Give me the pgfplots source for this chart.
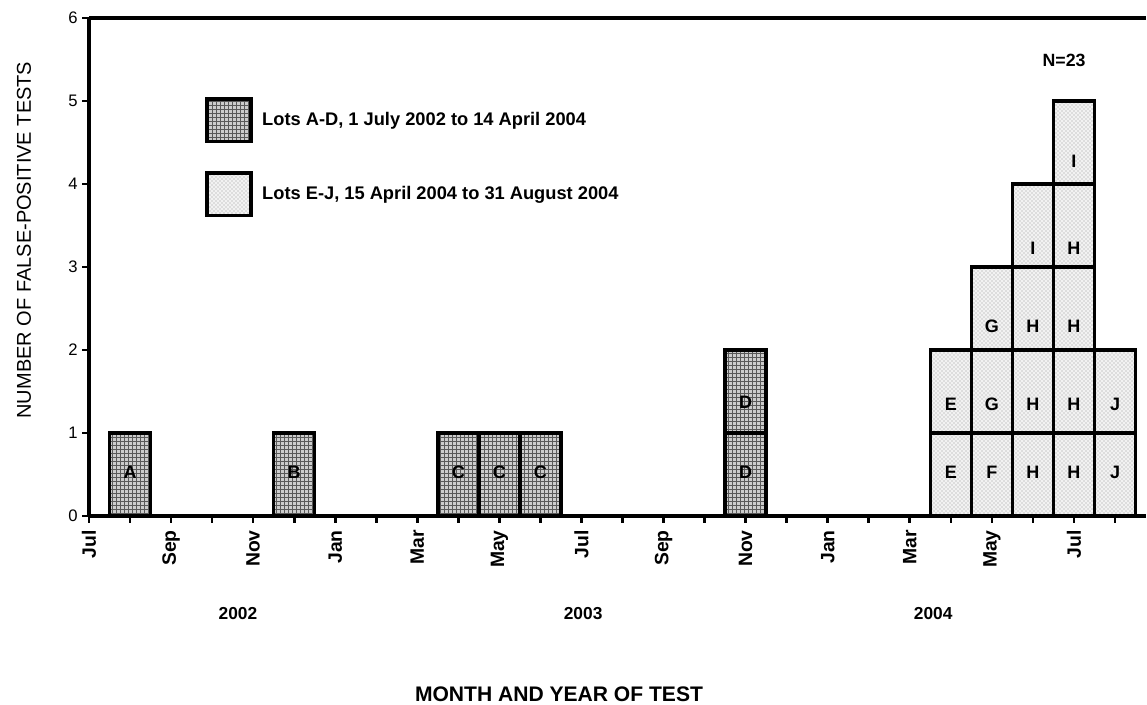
\documentclass[border=0pt]{standalone}
\usepackage{pgfplots}
\pgfplotsset{compat=1.18}
\usetikzlibrary{patterns}
\usepackage{fontspec}
\setmainfont{Liberation Sans}

\definecolor{darkfill}{gray}{0.80}
\definecolor{lightfill}{gray}{0.95}

\tikzset{
  lotsAD/.style={preaction={fill=darkfill}, pattern=grid, pattern color=black!65, draw=black, line width=2.6pt},
  lotsEJ/.style={preaction={fill=lightfill}, pattern=crosshatch dots, pattern color=black!40, draw=black, line width=2.6pt},
}

\begin{document}
\begin{tikzpicture}
\path[use as bounding box] (-66.75pt,-141.75pt) rectangle (793.5pt,387pt);
\begin{axis}[
  x=30.78pt, y=62.25pt,
  xmin=0, xmax=25.75, ymin=0, ymax=6,
  axis x line*=bottom, axis y line*=left,
  axis line style={line width=3pt, -},
  clip=false,
  tick align=outside,
  major tick length=5pt,
  tick style={line width=2pt, black},
  xtick={0,...,25},
  xticklabels={Jul,,Sep,,Nov,,Jan,,Mar,,May,,Jul,,Sep,,Nov,,Jan,,Mar,,May,,Jul,},
  xticklabel shift=2.25pt,
  xticklabel style={rotate=90, anchor=east, font=\bfseries\fontsize{14.5}{15}\selectfont},
  ytick={0,...,6},
  yticklabel style={font=\fontsize{12.5}{13}\selectfont},
  /pgf/number format/assume math mode=true,
  xlabel={MONTH AND YEAR OF TEST},
  ylabel={NUMBER OF FALSE-POSITIVE TESTS},
  every axis x label/.style={at={(rel axis cs:0,0)}, xshift=352.5pt, yshift=-133.5pt, anchor=center, font=\bfseries\fontsize{15.8}{16}\selectfont},
  every axis y label/.style={at={(rel axis cs:0,0.554)}, xshift=-48.75pt, rotate=90, anchor=center, font=\fontsize{15}{16}\selectfont},
  legend style={at={(axis cs:2.83,5.05)}, anchor=north west, draw=none, fill=none,
    font=\bfseries\fontsize{13.7}{14}\selectfont, row sep=21pt, inner sep=0pt,
    /tikz/every odd column/.append style={column sep=5pt}},
  legend cell align=left,
  legend image code/.code={\draw[#1] (0pt,-16pt) rectangle (33pt,16pt);},
]
% legend
\addlegendimage{lotsAD}
\addlegendentry{Lots A-D, 1 July 2002 to 14 April 2004}
\addlegendimage{lotsEJ}
\addlegendentry{Lots E-J, 15 April 2004 to 31 August 2004}

% Lots A-D, drawn tallest level first
\addplot[ybar, bar width=1, bar shift=0pt, lotsAD, forget plot]
  coordinates {(16,2)};
\addplot[ybar, bar width=1, bar shift=0pt, lotsAD, forget plot]
  coordinates {(1,1) (5,1) (9,1) (10,1) (11,1) (16,1)};
% Lots E-J
\addplot[ybar, bar width=1, bar shift=0pt, lotsEJ, forget plot]
  coordinates {(24,5)};
\addplot[ybar, bar width=1, bar shift=0pt, lotsEJ, forget plot]
  coordinates {(23,4) (24,4)};
\addplot[ybar, bar width=1, bar shift=0pt, lotsEJ, forget plot]
  coordinates {(22,3) (23,3) (24,3)};
\addplot[ybar, bar width=1, bar shift=0pt, lotsEJ, forget plot]
  coordinates {(21,2) (22,2) (23,2) (24,2) (25,2)};
\addplot[ybar, bar width=1, bar shift=0pt, lotsEJ, forget plot]
  coordinates {(21,1) (22,1) (23,1) (24,1) (25,1)};

% lot letters
\addplot[draw=none, mark=none, forget plot, nodes near coords, point meta=explicit symbolic,
  nodes near coords align={center},
  every node near coord/.append style={font=\bfseries\fontsize{13.5}{14}\selectfont, anchor=center, inner sep=0pt}]
  coordinates {(1,0.53)[A] (5,0.53)[B] (9,0.53)[C] (10,0.53)[C] (11,0.53)[C]
   (16,0.53)[D] (16,1.37)[D]
   (21,0.53)[E] (21,1.35)[E]
   (22,0.53)[F] (22,1.35)[G] (22,2.28)[G]
   (23,0.53)[H] (23,1.35)[H] (23,2.28)[H] (23,3.23)[I]
   (24,0.53)[H] (24,1.35)[H] (24,2.28)[H] (24,3.23)[H] (24,4.27)[I]
   (25,0.53)[J] (25,1.35)[J]};

\draw[line width=3pt] (rel axis cs:0,1) -- (rel axis cs:1,1);
\node[font=\bfseries\fontsize{13}{14}\selectfont] at (axis cs:3.63,-1.18) {2002};
\node[font=\bfseries\fontsize{13}{14}\selectfont] at (axis cs:12.04,-1.18) {2003};
\node[font=\bfseries\fontsize{13}{14}\selectfont] at (axis cs:20.57,-1.18) {2004};
\node[font=\bfseries\fontsize{13.3}{14}\selectfont] at (axis cs:23.76,5.49) {N=23};
\end{axis}
\end{tikzpicture}
\end{document}
